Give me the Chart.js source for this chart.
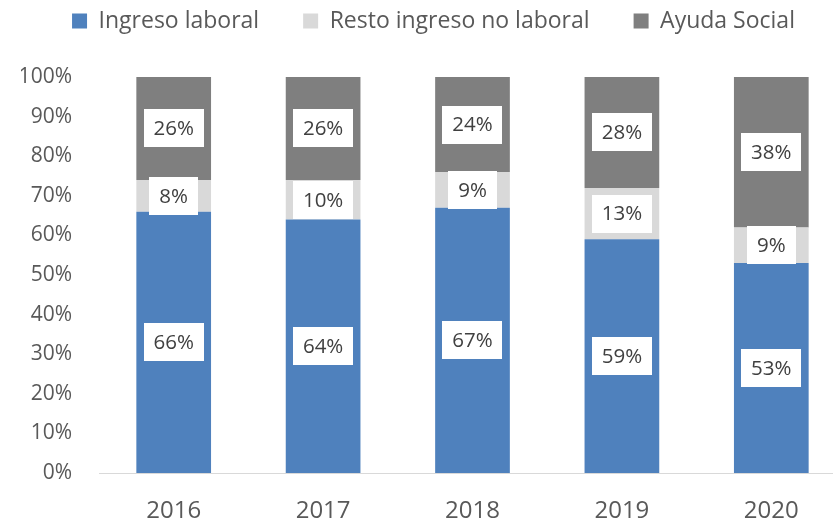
<!DOCTYPE html>
<html>
<head>
<meta charset="utf-8">
<script src="https://cdn.jsdelivr.net/npm/chart.js@4"></script>
<style>
  html, body { margin: 0; padding: 0; overflow: hidden; background: #fff; }
  #wrap { width: 846px; height: 524px; position: relative; }
</style>
</head>
<body>
<div id="wrap"><canvas id="myChart"></canvas></div>
<script>
// datos del gráfico (porcentajes)
const years = ['2016', '2017', '2018', '2019', '2020'];
const ingresoLaboral = [66, 64, 67, 59, 53];
const restoNoLaboral = [8, 10, 9, 13, 9];
const ayudaSocial = [26, 26, 24, 28, 38];
const yTicks = [0, 10, 20, 30, 40, 50, 60, 70, 80, 90, 100];

const FONT = "'Open Sans', 'DejaVu Sans', sans-serif";
const TEXT = '#595959';

// etiquetas blancas con el valor en el centro de cada segmento
const valueLabels = {
  id: 'valueLabels',
  afterDatasetsDraw(chart) {
    const ctx = chart.ctx;
    ctx.save();
    ctx.font = '20.5px ' + FONT;
    ctx.textAlign = 'center';
    ctx.textBaseline = 'middle';
    chart.data.datasets.forEach((ds, i) => {
      const meta = chart.getDatasetMeta(i);
      meta.data.forEach((bar, j) => {
        const txt = ds.data[j] + '%';
        const cx = bar.x;
        const cy = (bar.y + bar.base) / 2;
        const w = ctx.measureText(txt).width + 20;
        const h = 38;
        ctx.fillStyle = '#ffffff';
        ctx.fillRect(Math.round(cx - w / 2), Math.round(cy - h / 2), Math.round(w), h);
        ctx.fillStyle = '#404040';
        ctx.fillText(txt, cx, cy + 1);
      });
    });
    ctx.restore();
  }
};

const ctx = document.getElementById('myChart').getContext('2d');
new Chart(ctx, {
  type: 'bar',
  data: {
    labels: years,
    datasets: [
      { label: 'Ingreso laboral', data: ingresoLaboral, backgroundColor: '#4f81bd' },
      { label: 'Resto ingreso no laboral', data: restoNoLaboral, backgroundColor: '#d9d9d9' },
      { label: 'Ayuda Social', data: ayudaSocial, backgroundColor: '#7f7f7f' }
    ]
  },
  options: {
    responsive: true,
    maintainAspectRatio: false,
    animation: false,
    layout: { padding: { top: -34.5, left: 21, right: 0, bottom: 0 } },
    datasets: {
      bar: { barPercentage: 0.5, categoryPercentage: 1, borderWidth: 0 }
    },
    scales: {
      x: {
        stacked: true,
        grid: { display: false, drawTicks: false },
        border: { display: true, color: '#d9d9d9', width: 1 },
        ticks: { color: TEXT, font: { family: FONT, size: 24 }, padding: 24 },
        afterFit(scale) { scale.height = 51; }
      },
      y: {
        stacked: true,
        min: 0,
        max: 100,
        grid: { display: false, drawTicks: false },
        border: { display: false },
        afterBuildTicks(scale) { scale.ticks = yTicks.map(v => ({ value: v })); },
        ticks: {
          color: TEXT,
          font: { family: FONT, size: 21 },
          padding: 27,
          callback: v => v + '%'
        },
        afterFit(scale) { scale.width = 78; }
      }
    },
    plugins: {
      legend: {
        position: 'top',
        labels: {
          boxWidth: 15,
          boxHeight: 15,
          padding: 44,
          color: TEXT,
          font: { family: FONT, size: 23 }
        }
      },
      // espacio entre la leyenda y el área del gráfico
      title: {
        display: true,
        text: '',
        weight: 500,
        font: { size: 10 },
        padding: { top: 0, bottom: 22.5 }
      },
      tooltip: { enabled: false }
    }
  },
  plugins: [valueLabels]
});
</script>
</body>
</html>
